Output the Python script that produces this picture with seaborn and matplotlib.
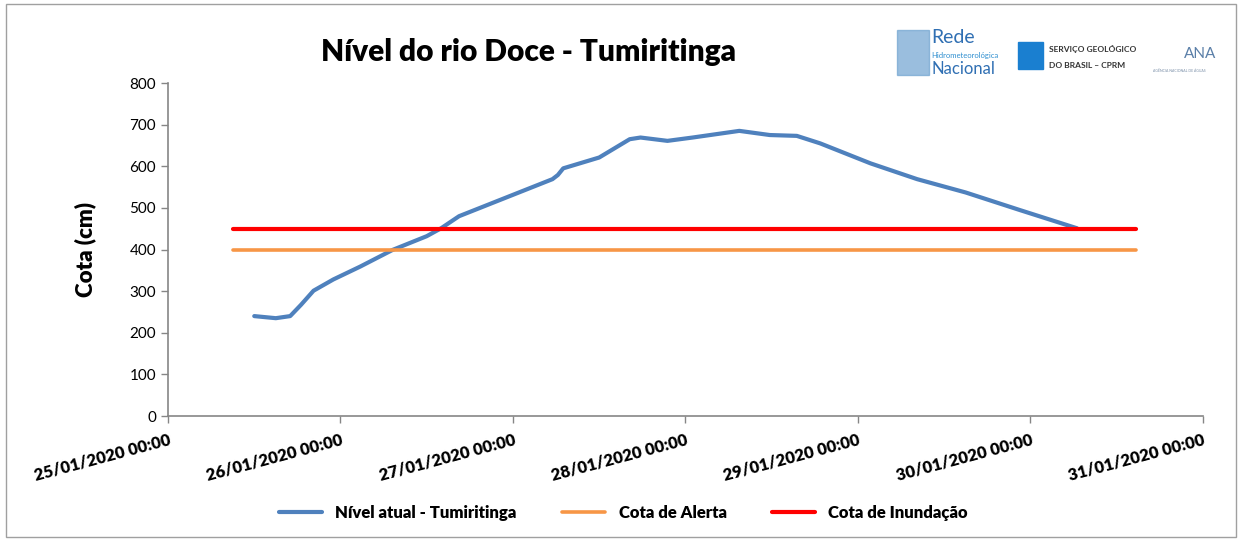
import pandas as pd
import matplotlib
matplotlib.use('Agg')
import matplotlib.pyplot as plt
import matplotlib.dates as mdates
from matplotlib.patches import Rectangle
import seaborn as sns

# leituras do nivel do rio (cm)
horarios = ['2020-01-25 12:00', '2020-01-25 15:00', '2020-01-25 17:00', '2020-01-25 18:30',
            '2020-01-25 20:15', '2020-01-25 23:00', '2020-01-26 02:45', '2020-01-26 07:15',
            '2020-01-26 12:00', '2020-01-26 14:00', '2020-01-26 16:30', '2020-01-27 05:30',
            '2020-01-27 06:15', '2020-01-27 07:00', '2020-01-27 12:00', '2020-01-27 16:15',
            '2020-01-27 17:45', '2020-01-27 21:30', '2020-01-28 01:00', '2020-01-28 07:30',
            '2020-01-28 11:45', '2020-01-28 15:30', '2020-01-28 18:45', '2020-01-29 01:45',
            '2020-01-29 08:15', '2020-01-29 15:00', '2020-01-29 22:30', '2020-01-30 06:30']
nivel = [240, 235, 240, 267, 301, 328, 359, 399, 432, 451, 480, 569, 579, 595, 621, 665,
         669, 661, 669, 685, 675, 673, 655, 607, 569, 537, 495, 451]

limites = ['2020-01-25 09:00', '2020-01-30 14:45']
cota_alerta = [400, 400]
cota_inundacao = [450, 450]

df = pd.DataFrame({'hora': pd.to_datetime(horarios), 'nivel': nivel})
df_ref = pd.DataFrame({'hora': pd.to_datetime(limites),
                       'alerta': cota_alerta, 'inundacao': cota_inundacao})

sns.set_style('white')
plt.rcParams['font.family'] = ['Lato', 'DejaVu Sans']
plt.rcParams['text.color'] = 'black'
plt.rcParams['xtick.color'] = 'black'
plt.rcParams['ytick.color'] = 'black'
plt.rcParams['axes.labelcolor'] = 'black'

fig = plt.figure(figsize=(12.4, 5.39), dpi=100)
ax = fig.add_axes([0.1355, 0.2282, 0.8345, 0.6178])

sns.lineplot(data=df, x='hora', y='nivel', ax=ax, color='#4f81bd', linewidth=3,
             label='Nível atual - Tumiritinga', solid_capstyle='round', solid_joinstyle='round')
sns.lineplot(data=df_ref, x='hora', y='alerta', ax=ax, color='#f79646', linewidth=2.6,
             label='Cota de Alerta', solid_capstyle='round')
sns.lineplot(data=df_ref, x='hora', y='inundacao', ax=ax, color='#ff0000', linewidth=3,
             label='Cota de Inundação', solid_capstyle='round')

ax.set_xlim(pd.Timestamp('2020-01-25'), pd.Timestamp('2020-01-31'))
ax.set_ylim(0, 800)
ax.set_yticks(range(0, 801, 100))
ax.xaxis.set_major_locator(mdates.DayLocator())
ax.xaxis.set_major_formatter(mdates.DateFormatter('%d/%m/%Y %H:%M'))
for lab in ax.get_xticklabels():
    lab.set_rotation(15)
    lab.set_ha('right')
    lab.set_rotation_mode('anchor')
    lab.set_fontweight('heavy')
    lab.set_fontsize(12)
ax.tick_params(axis='y', labelsize=11, length=5, width=1, color='#868686', direction='out', left=True)
ax.tick_params(axis='x', length=5, width=1, color='#868686', direction='out', bottom=True, pad=6)
for s in ['top', 'right']:
    ax.spines[s].set_visible(False)
for s in ['left', 'bottom']:
    ax.spines[s].set_color('#868686')
    ax.spines[s].set_linewidth(1.2)

ax.set_xlabel('')
ax.set_ylabel('Cota (cm)', fontsize=16, fontweight='heavy', labelpad=24)

ax.legend(loc='upper center', bbox_to_anchor=(0.44, -0.222), ncol=3, frameon=False,
          prop={'weight': 'heavy', 'size': 12}, handlelength=2.6, columnspacing=2.7)

fig.text(0.426, 0.903, 'Nível do rio Doce - Tumiritinga', ha='center', va='center',
         fontsize=21.5, fontweight='heavy')

# logos (aproximados com texto)
fig.text(0.751, 0.93, 'Rede', color='#2f6fb3', fontsize=14, va='center')
fig.text(0.751, 0.897, 'Hidrometeorológica', color='#2f8fd0', fontsize=5.5, va='center')
fig.text(0.751, 0.872, 'Nacional', color='#2f6fb3', fontsize=12, va='center')
fig.patches.append(Rectangle((0.723, 0.86), 0.026, 0.085, transform=fig.transFigure,
                             color='#6fa3d0', alpha=0.7))
fig.patches.append(Rectangle((0.821, 0.872), 0.02, 0.05, transform=fig.transFigure,
                             color='#1a7fd0'))
fig.text(0.846, 0.91, 'SERVIÇO GEOLÓGICO', color='#333333', fontsize=6, fontweight='bold', va='center')
fig.text(0.846, 0.879, 'DO BRASIL – CPRM', color='#333333', fontsize=6, fontweight='bold', va='center')
fig.text(0.955, 0.9, 'ANA', color='#5a7fa8', fontsize=11, va='center')
fig.text(0.93, 0.868, 'AGÊNCIA NACIONAL DE ÁGUAS', color='#7a8fa8', fontsize=2.5, va='center')

fig.patches.append(Rectangle((0.005, 0.003), 0.992, 0.99, transform=fig.transFigure,
                             fill=False, edgecolor='#a0a0a0', linewidth=1))

fig.savefig('out.png', dpi=100, facecolor='white')
